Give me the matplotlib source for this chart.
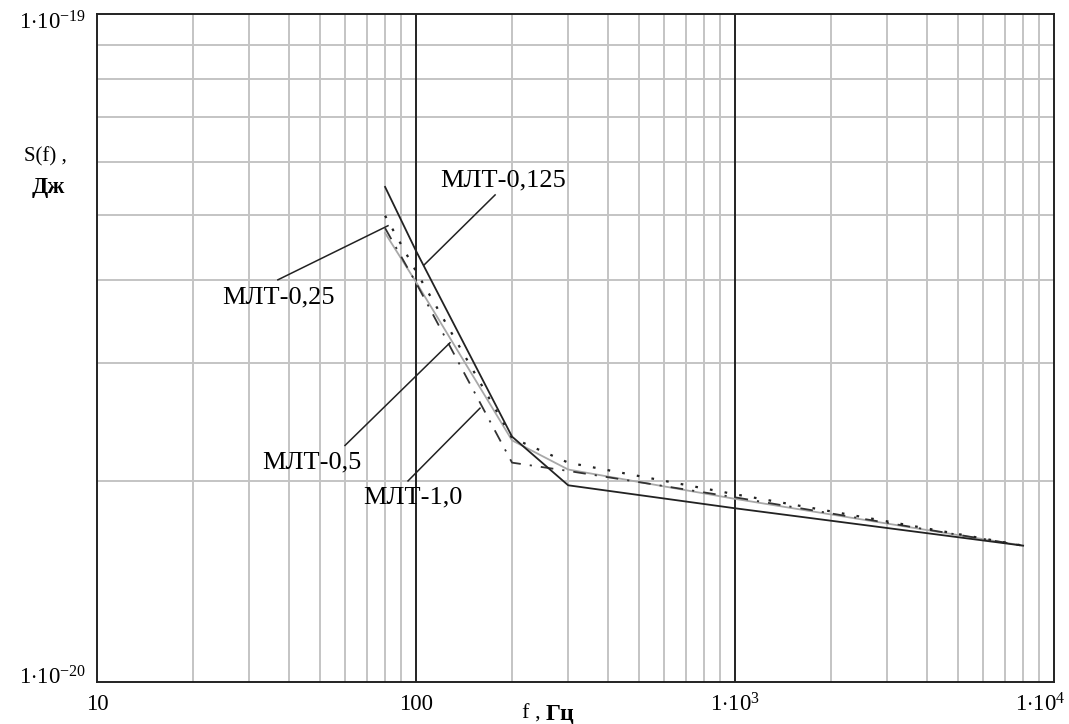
import matplotlib
matplotlib.use("Agg")
import matplotlib.pyplot as plt
import matplotlib.transforms as mtransforms

plt.rcParams['font.family'] = ['Liberation Serif', 'DejaVu Serif']
plt.rcParams['mathtext.fontset'] = 'custom'
plt.rcParams['mathtext.rm'] = 'Liberation Serif'
plt.rcParams['mathtext.it'] = 'Liberation Serif'
plt.rcParams['mathtext.bf'] = 'Liberation Serif:bold'

# frequencies, Hz
freq = [80, 100, 200, 300, 1000, 8000]
# spectral density S(f), J (x1e-20)
s_0125 = [5.51, 4.42, 2.33, 1.97, 1.82, 1.60]
s_025 = [4.99, 4.12, 2.32, 2.13, 1.91, 1.60]
s_05 = [4.70, 3.97, 2.30, 2.08, 1.88, 1.60]
s_10 = [4.78, 3.96, 2.13, 2.07, 1.89, 1.60]

labels = ['МЛТ-0,125', 'МЛТ-0,25', 'МЛТ-0,5', 'МЛТ-1,0']
x_ticks = [10, 100, 1000, 10000]
x_tick_labels = ['10', '100', r'$1{\cdot}10^{3}$', r'$1{\cdot}10^{4}$']
y_ticks = [1e-20, 1e-19]
y_tick_labels = [r'$1{\cdot}10^{-20}$', r'$1{\cdot}10^{-19}$']

scale = 1e-20
fig = plt.figure(figsize=(10.69, 7.24), dpi=100)
ax = fig.add_axes([97 / 1069, 1 - 682 / 724, (1054 - 97) / 1069, (682 - 14) / 724])
ax.set_xscale('log')
ax.set_yscale('log')
ax.set_xlim(10, 1e4)
ax.set_ylim(1e-20, 1e-19)

# grid
grid_c = '#c4c4c4'
for dec in [10, 100, 1000]:
    for m in range(2, 10):
        ax.axvline(dec * m, color=grid_c, lw=1.4, zorder=0)
for v in [100, 1000]:
    ax.axvline(v, color='#222222', lw=1.4, zorder=0.5)
for m in range(2, 10):
    ax.axhline(m * 1e-20, color=grid_c, lw=1.4, zorder=0)

def sc(a):
    return [v * scale for v in a]

ax.plot(freq, sc(s_0125), color='#222222', lw=1.3, ls='-', zorder=3)
ax.plot(freq, sc(s_025), color='#222222', lw=1.6, ls=(0, (1.2, 5.5)), zorder=3)
ax.plot(freq, sc(s_05), color='#a8a8a8', lw=1.3, ls='-', zorder=2)
ax.plot(freq, sc(s_10), color='#333333', lw=1.3, ls=(0, (7, 5, 1.2, 5)), zorder=2.5)

for sp in ax.spines.values():
    sp.set_color('#222222')
    sp.set_linewidth(1.4)

ax.set_xticks(x_ticks)
ax.set_xticklabels([])
ax.set_yticks(y_ticks)
ax.set_yticklabels([])
ax.minorticks_off()
ax.tick_params(length=0)

tfs = 16.5
xt = mtransforms.blended_transform_factory(ax.transData, fig.transFigure)
for v, lab in zip(x_ticks, x_tick_labels):
    off = 0
    if v == 10000:
        off = -14
    ax.text(v, 1 - 705 / 724, lab, transform=xt + mtransforms.ScaledTranslation(off / 100, 0, fig.dpi_scale_trans),
            ha='center', va='center', fontsize=tfs)
yt = mtransforms.blended_transform_factory(fig.transFigure, ax.transData)
ax.text(86 / 1069, 1e-19, y_tick_labels[1],
        transform=yt + mtransforms.ScaledTranslation(0, -9 / 100, fig.dpi_scale_trans),
        ha='right', va='center', fontsize=tfs)
ax.text(86 / 1069, 1e-20, y_tick_labels[0],
        transform=yt + mtransforms.ScaledTranslation(0, 4 / 100, fig.dpi_scale_trans),
        ha='right', va='center', fontsize=tfs)

# axis labels
fig.text(45 / 1069, 1 - 157 / 724, 'S(f) ,', ha='center', va='center', fontsize=15)
fig.text(48 / 1069, 1 - 187 / 724, 'Дж', ha='center', va='center', fontsize=17, fontweight='bold')
fig.text(546 / 1069, 1 - 714 / 724, 'f , ', ha='right', va='center', fontsize=16)
fig.text(546 / 1069, 1 - 714 / 724, 'Гц', ha='left', va='center', fontsize=17, fontweight='bold')

# annotations with leader lines
lfs = 19
ann = [
    (labels[0], (106, 4.21), (177, 5.36), (503, 180)),
    (labels[1], (81.7, 4.82), (36.9, 4.0), (278, 297)),
    (labels[2], (127.8, 3.22), (59.9, 2.26), (312, 462)),
    (labels[3], (158.7, 2.57), (94.4, 2.0), (413, 497)),
]
for lab, end, start, txt in ann:
    ax.plot([start[0], end[0]], [start[1] * scale, end[1] * scale], color='#222222', lw=1.1, zorder=4)
    fig.text(txt[0] / 1069, 1 - txt[1] / 724, lab, ha='center', va='center', fontsize=lfs, zorder=5)

fig.savefig('out.png', dpi=100)
